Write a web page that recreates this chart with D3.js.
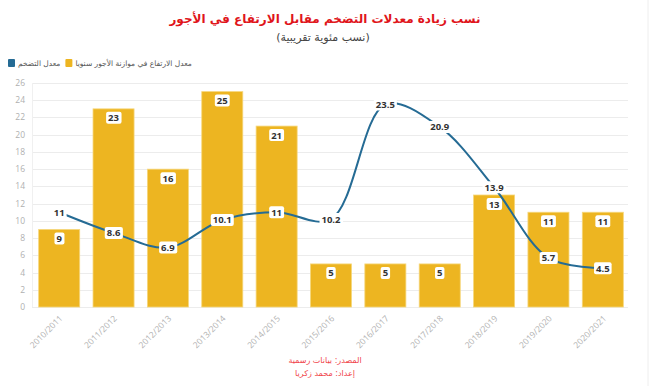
<!DOCTYPE html>
<html>
<head>
<meta charset="utf-8">
<script src="https://cdn.jsdelivr.net/npm/d3@7"></script>
<style>
    body { margin: 0; background: #fff; }
    svg { display: block; }
    .tick-label { font-family: "Open Sans", sans-serif; font-size: 8.5px; fill: #b0b0b0; }
    .ar { font-family: "DejaVu Sans", sans-serif; }
</style>
</head>
<body>
<script>
// JavaScript source code
const years = ["2010/2011", "2011/2012", "2012/2013", "2013/2014", "2014/2015", "2015/2016",
    "2016/2017", "2017/2018", "2018/2019", "2019/2020", "2020/2021"];
const wages = [9, 23, 16, 25, 21, 5, 5, 5, 13, 11, 11];
const inflation = [11, 8.6, 6.9, 10.1, 11, 10.2, 23.5, 20.9, 13.9, 5.7, 4.5];
const yTicks = [0, 2, 4, 6, 8, 10, 12, 14, 16, 18, 20, 22, 24, 26];

const width = 650;
const height = 386;
const plot = { left: 32, right: 630, top: 83, bottom: 307 };

const svg = d3.select("body")
    .append("svg")
    .attr("width", width)
    .attr("height", height);

svg.append("rect")
    .attr("width", width)
    .attr("height", height)
    .attr("fill", "#fff");

// right edge of the frame
svg.append("line")
    .attr("x1", width - 2).attr("x2", width - 2)
    .attr("y1", 0).attr("y2", height)
    .attr("stroke", "#eee");

const xScale = d3.scaleBand()
    .domain(years)
    .range([plot.left, plot.right])
    .paddingInner(0.245)
    .paddingOuter(0.1225);

const yScale = d3.scaleLinear()
    .domain([0, 26])
    .range([plot.bottom, plot.top]);

// grid lines
svg.append("g")
    .selectAll("line")
    .data(yTicks)
    .enter().append("line")
    .attr("x1", plot.left)
    .attr("x2", plot.right - 2)
    .attr("y1", d => Math.round(yScale(d)) + 0.5)
    .attr("y2", d => Math.round(yScale(d)) + 0.5)
    .attr("stroke", "#ececec")
    .attr("stroke-width", 1);

svg.append("line")
    .attr("x1", plot.left + 0.5).attr("x2", plot.left + 0.5)
    .attr("y1", plot.top).attr("y2", plot.bottom)
    .attr("stroke", "#f0f0f0");

// y axis labels
svg.append("g")
    .selectAll("text")
    .data(yTicks)
    .enter().append("text")
    .attr("class", "tick-label")
    .attr("x", 25)
    .attr("y", d => yScale(d) + 3)
    .attr("text-anchor", "end")
    .text(d => d);

// x axis labels
svg.append("g")
    .selectAll("text")
    .data(years)
    .enter().append("text")
    .attr("class", "tick-label")
    .attr("text-anchor", "end")
    .attr("transform", d => "translate(" + (xScale(d) + xScale.bandwidth() / 2 + 4) + "," + (plot.bottom + 12) + ") rotate(-45)")
    .text(d => d);

// bars
svg.append("g")
    .selectAll("rect")
    .data(wages)
    .enter().append("rect")
    .attr("x", (d, i) => xScale(years[i]))
    .attr("y", d => yScale(d))
    .attr("width", xScale.bandwidth())
    .attr("height", d => plot.bottom - yScale(d))
    .attr("fill", "#EDB521")
    .attr("stroke", "#f6d77c")
    .attr("stroke-width", 0.8);

function labelBox(g, x, y, txt) {
    const t = g.append("text")
        .attr("x", x)
        .attr("y", y + 3.5)
        .attr("text-anchor", "middle")
        .attr("font-family", "Open Sans, sans-serif")
        .attr("font-weight", "bold")
        .attr("font-size", "9.5px")
        .attr("fill", "#333")
        .text(txt);
    const bb = t.node().getBBox();
    g.insert("rect", "text")
        .attr("x", bb.x - 2)
        .attr("y", y - 6)
        .attr("width", bb.width + 4)
        .attr("height", 12)
        .attr("rx", 2)
        .attr("fill", "#fff");
}

// bar value labels
const barLabels = svg.append("g");
wages.forEach((d, i) => {
    const g = barLabels.append("g");
    labelBox(g, xScale(years[i]) + xScale.bandwidth() / 2, yScale(d) + 9, d);
});

// inflation line
const line = d3.line()
    .x((d, i) => xScale(years[i]) + xScale.bandwidth() / 2)
    .y(d => yScale(d))
    .curve(d3.curveCatmullRom.alpha(0.5));

svg.append("path")
    .datum(inflation)
    .attr("d", line)
    .attr("fill", "none")
    .attr("stroke", "#256b94")
    .attr("stroke-width", 2);

const lineLabels = svg.append("g");
inflation.forEach((d, i) => {
    const g = lineLabels.append("g");
    labelBox(g, xScale(years[i]) + xScale.bandwidth() / 2, yScale(d), d);
});

// title
svg.append("text")
    .attr("class", "ar")
    .attr("x", 325)
    .attr("y", 23)
    .attr("text-anchor", "middle")
    .attr("font-weight", "bold")
    .attr("font-size", "12px")
    .attr("fill", "#e0151b")
    .text("نسب زيادة معدلات التضخم مقابل الارتفاع في الأجور");

svg.append("text")
    .attr("class", "ar")
    .attr("x", 323)
    .attr("y", 41)
    .attr("text-anchor", "middle")
    .attr("font-size", "11px")
    .attr("fill", "#444")
    .text("(نسب مئوية تقريبية)");

// legend
const legend = svg.append("g");
legend.append("rect").attr("x", 8).attr("y", 59).attr("width", 7).attr("height", 8).attr("rx", 1).attr("fill", "#256b94");
const lt1 = legend.append("text").attr("class", "ar")
    .attr("x", 18).attr("y", 66)
    .attr("font-size", "7.5px").attr("fill", "#555")
    .text("معدل التضخم");
const x2 = 18 + lt1.node().getComputedTextLength() + 5;
legend.append("rect").attr("x", x2).attr("y", 59).attr("width", 7).attr("height", 8).attr("rx", 1).attr("fill", "#EDB521");
legend.append("text").attr("class", "ar")
    .attr("x", x2 + 10).attr("y", 66)
    .attr("font-size", "7.5px").attr("fill", "#555")
    .text("معدل الارتفاع في موازنة الأجور سنويا");

// credits
svg.append("text")
    .attr("class", "ar")
    .attr("x", 325).attr("y", 363)
    .attr("text-anchor", "middle")
    .attr("font-size", "8px")
    .attr("fill", "#f0444a")
    .text("المصدر: بيانات رسمية");
svg.append("text")
    .attr("class", "ar")
    .attr("x", 325).attr("y", 376)
    .attr("text-anchor", "middle")
    .attr("font-size", "8px")
    .attr("fill", "#f0444a")
    .text("إعداد: محمد زكريا");
</script>
</body>
</html>
